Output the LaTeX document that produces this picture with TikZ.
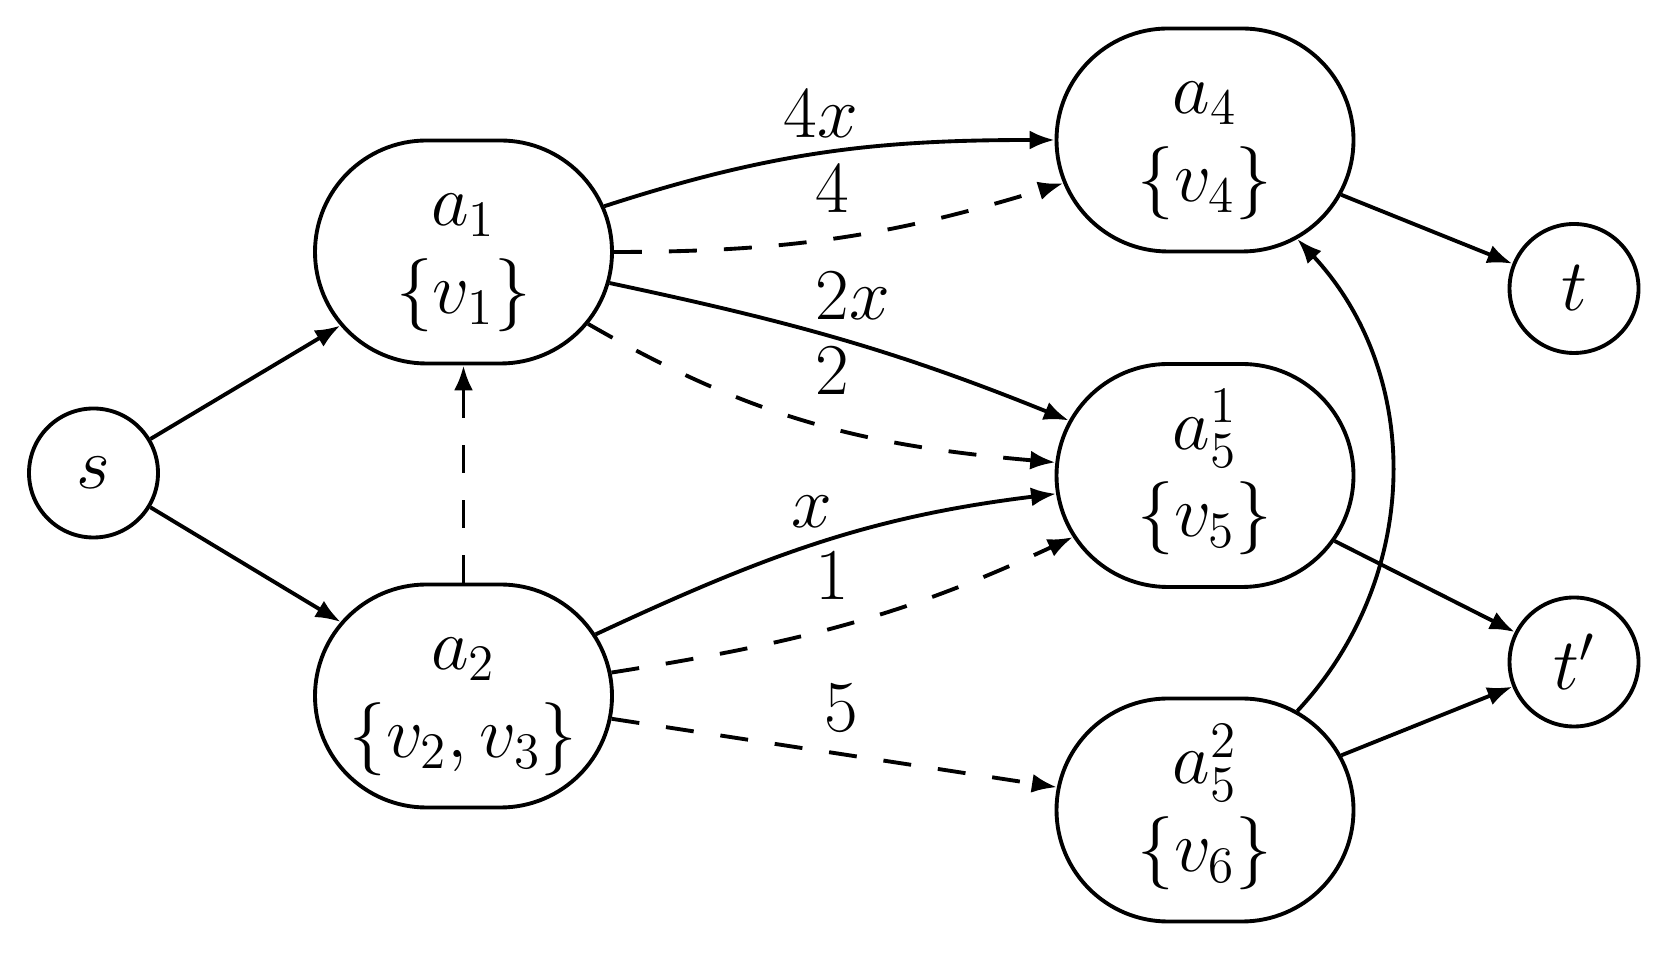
\RequirePackage{fix-cm}
\documentclass[tikz,border=0pt]{standalone}
\usetikzlibrary{shapes.misc,arrows.meta}
\newcommand{\twolines}[2]{\makebox[0pt]{\begin{tabular}{@{}c@{}}#1\\#2\end{tabular}}}
\begin{document}
\begin{tikzpicture}[
  every node/.style={font=\fontsize{20.8}{25}\selectfont},
  box/.style={draw, rounded rectangle, minimum width=2.97cm, minimum height=2.23cm, inner sep=0pt, line width=1.1pt},
  term/.style={draw, circle, minimum size=1.29cm, inner sep=0pt, line width=1.1pt},
  arr/.style={-{Latex[length=0.25cm,width=0.19cm]}, line width=1.1pt},
  dashedline/.style={dash pattern=on 0.28cm off 0.27cm},
  elabel/.style={anchor=base, inner sep=0pt}
]
\useasboundingbox (0,0) rectangle (16.72,9.53);
\node[term] (s) at (0.935,4.80) {$s$};
\node[box] (a1) at (4.635,7.01) {\twolines{$a_1$}{$\{v_1\}$}};
\node[box] (a2) at (4.635,2.57) {\twolines{$a_2$}{$\{v_2,v_3\}$}};
\node[box] (a4) at (12.05,8.13) {\twolines{$a_4$}{$\{v_4\}$}};
\node[box] (a51) at (12.05,4.775) {\twolines{$a_5^1$}{$\{v_5\}$}};
\node[box] (a52) at (12.05,1.43) {\twolines{$a_5^2$}{$\{v_6\}$}};
\node[term] (t) at (15.74,6.645) {$t$};
\node[term] (tp) at (15.74,2.91) {$t'$};

\draw[arr] (s) -- (a1);
\draw[arr] (s) -- (a2);
\draw[arr,dashedline] (a2) -- (a1);
\draw[arr] (a1) to[out=18,in=180] (a4);
\draw[arr,dashedline] (a1) to[out=0,in=197] (a4);
\draw[arr] (a1) to[out=-12,in=158] (a51);
\draw[arr,dashedline] (a1) to[out=-30,in=175] (a51);
\draw[arr] (a2) to[out=25,in=187] (a51);
\draw[arr,dashedline] (a2) to[out=9,in=205] (a51);
\draw[arr,dashedline] (a2) -- (a52);
\draw[arr] (a52) to[out=47,in=-47] (a4);
\draw[arr] (a4) -- (t);
\draw[arr] (a51) -- (tp);
\draw[arr] (a52) -- (tp);

\node[elabel] (l4x) at (8.21,8.15) {$4x$};
\node[elabel] (l4) at (8.32,7.40) {$4$};
\node[elabel] (l2x) at (8.53,6.33) {$2x$};
\node[elabel] (l2) at (8.32,5.58) {$2$};
\node[elabel] (lx) at (8.12,4.25) {$x$};
\node[elabel] (l1) at (8.32,3.53) {$1$};
\node[elabel] (l5) at (8.41,2.21) {$5$};
\end{tikzpicture}
\end{document}
